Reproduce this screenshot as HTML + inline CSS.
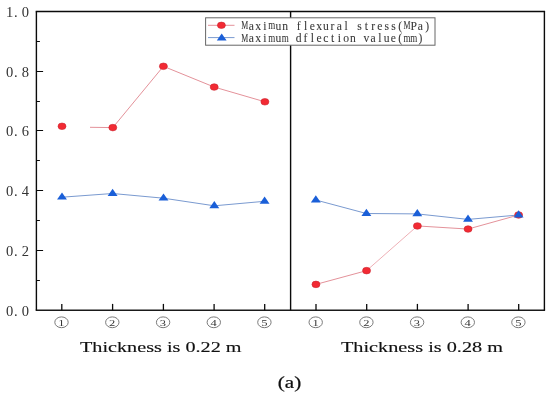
<!DOCTYPE html>
<html><head><meta charset="utf-8"><style>
html,body{margin:0;padding:0;background:#fff;overflow:hidden}
svg{display:block;will-change:transform}
.yl{font-family:"Liberation Serif",serif;font-size:14.5px;fill:#333}
.cn{font-family:"Liberation Serif",serif;font-size:8.6px;fill:#333}
.tt{font-family:"Liberation Serif",serif;font-size:15.3px;fill:#111;stroke:#111;stroke-width:0.15px}
.ta{font-family:"Liberation Serif",serif;font-size:17.2px;fill:#111;stroke:#111;stroke-width:0.22px}
.lg{font-family:"Liberation Mono",monospace;font-size:11.2px;fill:#333}
.lgs{font-family:"Liberation Serif",serif;font-size:11.6px;fill:#383838;stroke:#383838;stroke-width:0.08px}
</style></head><body>
<svg width="550" height="398" viewBox="0 0 550 398">
<rect x="0" y="0" width="550" height="398" fill="#fff"/>
<polyline fill="none" stroke="#e4929a" stroke-width="1.0" points="90.00,127.30 112.80,127.60 163.40,66.30 214.20,87.05 264.90,101.80"/>
<polyline fill="none" stroke="#e4929a" stroke-width="1.0" points="315.95,284.40 366.55,270.65"/>
<polyline fill="none" stroke="#eeb0b6" stroke-width="1.0" points="366.55,270.65 417.40,225.95"/>
<polyline fill="none" stroke="#e4929a" stroke-width="1.0" points="417.40,225.95 468.05,229.05 518.60,215.00"/>
<polyline fill="none" stroke="#7a9ad0" stroke-width="1.0" points="62.00,197.20 112.60,193.50 163.50,198.20 214.30,205.80 264.60,201.30"/>
<polyline fill="none" stroke="#7a9ad0" stroke-width="1.0" points="315.80,200.00 366.40,213.50 417.30,213.90 468.00,219.40 518.60,215.00"/>
<ellipse cx="62.0" cy="126.3" rx="4.0" ry="3.3" fill="#f22a33" stroke="#cc2530" stroke-width="0.6"/>
<ellipse cx="112.8" cy="127.6" rx="4.0" ry="3.3" fill="#f22a33" stroke="#cc2530" stroke-width="0.6"/>
<ellipse cx="163.4" cy="66.3" rx="4.0" ry="3.3" fill="#f22a33" stroke="#cc2530" stroke-width="0.6"/>
<ellipse cx="214.2" cy="87.05" rx="4.0" ry="3.3" fill="#f22a33" stroke="#cc2530" stroke-width="0.6"/>
<ellipse cx="264.9" cy="101.8" rx="4.0" ry="3.3" fill="#f22a33" stroke="#cc2530" stroke-width="0.6"/>
<ellipse cx="315.95" cy="284.4" rx="4.0" ry="3.3" fill="#f22a33" stroke="#cc2530" stroke-width="0.6"/>
<ellipse cx="366.55" cy="270.65" rx="4.0" ry="3.3" fill="#f22a33" stroke="#cc2530" stroke-width="0.6"/>
<ellipse cx="417.4" cy="225.95" rx="4.0" ry="3.3" fill="#f22a33" stroke="#cc2530" stroke-width="0.6"/>
<ellipse cx="468.05" cy="229.05" rx="4.0" ry="3.3" fill="#f22a33" stroke="#cc2530" stroke-width="0.6"/>
<ellipse cx="518.6" cy="215.0" rx="4.0" ry="3.3" fill="#f22a33" stroke="#cc2530" stroke-width="0.6"/>
<polygon points="57.05,199.60 66.95,199.60 62.00,192.40" fill="#1a5fd8"/>
<polygon points="107.65,195.90 117.55,195.90 112.60,188.70" fill="#1a5fd8"/>
<polygon points="158.55,200.60 168.45,200.60 163.50,193.40" fill="#1a5fd8"/>
<polygon points="209.35,208.20 219.25,208.20 214.30,201.00" fill="#1a5fd8"/>
<polygon points="259.65,203.70 269.55,203.70 264.60,196.50" fill="#1a5fd8"/>
<polygon points="310.85,202.40 320.75,202.40 315.80,195.20" fill="#1a5fd8"/>
<polygon points="361.45,215.90 371.35,215.90 366.40,208.70" fill="#1a5fd8"/>
<polygon points="412.35,216.30 422.25,216.30 417.30,209.10" fill="#1a5fd8"/>
<polygon points="463.05,221.80 472.95,221.80 468.00,214.60" fill="#1a5fd8"/>
<polygon points="513.65,217.40 523.55,217.40 518.60,210.20" fill="#1a5fd8"/>
<line x1="35.699999999999996" y1="11.5" x2="545.1" y2="11.5" stroke="#0a0a0a" stroke-width="1.4"/>
<line x1="35.699999999999996" y1="310.3" x2="545.1" y2="310.3" stroke="#1a1a1a" stroke-width="1.4"/>
<line x1="36.4" y1="11.5" x2="36.4" y2="310.3" stroke="#0a0a0a" stroke-width="1.4"/>
<line x1="544.4" y1="11.5" x2="544.4" y2="310.3" stroke="#0a0a0a" stroke-width="1.4"/>
<line x1="290.6" y1="11.5" x2="290.6" y2="310.3" stroke="#0a0a0a" stroke-width="1.4"/>
<line x1="36.4" y1="250.5" x2="43.1" y2="250.5" stroke="#0a0a0a" stroke-width="1.0"/>
<line x1="36.4" y1="190.5" x2="43.1" y2="190.5" stroke="#0a0a0a" stroke-width="1.0"/>
<line x1="36.4" y1="130.5" x2="43.1" y2="130.5" stroke="#0a0a0a" stroke-width="1.0"/>
<line x1="36.4" y1="71.5" x2="43.1" y2="71.5" stroke="#0a0a0a" stroke-width="1.0"/>
<line x1="36.4" y1="280.5" x2="39.9" y2="280.5" stroke="#0a0a0a" stroke-width="1.0"/>
<line x1="36.4" y1="220.5" x2="39.9" y2="220.5" stroke="#0a0a0a" stroke-width="1.0"/>
<line x1="36.4" y1="160.5" x2="39.9" y2="160.5" stroke="#0a0a0a" stroke-width="1.0"/>
<line x1="36.4" y1="101.5" x2="39.9" y2="101.5" stroke="#0a0a0a" stroke-width="1.0"/>
<line x1="36.4" y1="41.5" x2="39.9" y2="41.5" stroke="#0a0a0a" stroke-width="1.0"/>
<line x1="61.8" y1="310.3" x2="61.8" y2="303.9" stroke="#0a0a0a" stroke-width="1.3"/>
<line x1="112.6" y1="310.3" x2="112.6" y2="303.9" stroke="#0a0a0a" stroke-width="1.3"/>
<line x1="163.4" y1="310.3" x2="163.4" y2="303.9" stroke="#0a0a0a" stroke-width="1.3"/>
<line x1="214.1" y1="310.3" x2="214.1" y2="303.9" stroke="#0a0a0a" stroke-width="1.3"/>
<line x1="264.7" y1="310.3" x2="264.7" y2="303.9" stroke="#0a0a0a" stroke-width="1.3"/>
<line x1="316.0" y1="310.3" x2="316.0" y2="303.9" stroke="#0a0a0a" stroke-width="1.3"/>
<line x1="366.7" y1="310.3" x2="366.7" y2="303.9" stroke="#0a0a0a" stroke-width="1.3"/>
<line x1="417.4" y1="310.3" x2="417.4" y2="303.9" stroke="#0a0a0a" stroke-width="1.3"/>
<line x1="468.1" y1="310.3" x2="468.1" y2="303.9" stroke="#0a0a0a" stroke-width="1.3"/>
<line x1="518.7" y1="310.3" x2="518.7" y2="303.9" stroke="#0a0a0a" stroke-width="1.3"/>
<text x="9.65 15.8 25.3" y="315.60" text-anchor="middle" class="yl">0.0</text>
<text x="9.65 15.8 25.3" y="255.80" text-anchor="middle" class="yl">0.2</text>
<text x="9.65 15.8 25.3" y="195.80" text-anchor="middle" class="yl">0.4</text>
<text x="9.65 15.8 25.3" y="135.80" text-anchor="middle" class="yl">0.6</text>
<text x="9.65 15.8 25.3" y="76.80" text-anchor="middle" class="yl">0.8</text>
<text x="9.65 15.8 25.3" y="16.80" text-anchor="middle" class="yl">1.0</text>
<ellipse cx="61.5" cy="322.3" rx="6.7" ry="5.4" fill="none" stroke="#7a7a7a" stroke-width="1.0"/>
<text x="61.5" y="325.7" text-anchor="middle" class="cn" transform="translate(61.8,0) scale(1.45,1) translate(-61.8,0)">1</text>
<ellipse cx="112.3" cy="322.3" rx="6.7" ry="5.4" fill="none" stroke="#7a7a7a" stroke-width="1.0"/>
<text x="112.3" y="325.7" text-anchor="middle" class="cn" transform="translate(112.6,0) scale(1.45,1) translate(-112.6,0)">2</text>
<ellipse cx="163.1" cy="322.3" rx="6.7" ry="5.4" fill="none" stroke="#7a7a7a" stroke-width="1.0"/>
<text x="163.1" y="325.7" text-anchor="middle" class="cn" transform="translate(163.4,0) scale(1.45,1) translate(-163.4,0)">3</text>
<ellipse cx="213.79999999999998" cy="322.3" rx="6.7" ry="5.4" fill="none" stroke="#7a7a7a" stroke-width="1.0"/>
<text x="213.79999999999998" y="325.7" text-anchor="middle" class="cn" transform="translate(214.1,0) scale(1.45,1) translate(-214.1,0)">4</text>
<ellipse cx="264.4" cy="322.3" rx="6.7" ry="5.4" fill="none" stroke="#7a7a7a" stroke-width="1.0"/>
<text x="264.4" y="325.7" text-anchor="middle" class="cn" transform="translate(264.7,0) scale(1.45,1) translate(-264.7,0)">5</text>
<ellipse cx="315.7" cy="322.3" rx="6.7" ry="5.4" fill="none" stroke="#7a7a7a" stroke-width="1.0"/>
<text x="315.7" y="325.7" text-anchor="middle" class="cn" transform="translate(316.0,0) scale(1.45,1) translate(-316.0,0)">1</text>
<ellipse cx="366.4" cy="322.3" rx="6.7" ry="5.4" fill="none" stroke="#7a7a7a" stroke-width="1.0"/>
<text x="366.4" y="325.7" text-anchor="middle" class="cn" transform="translate(366.7,0) scale(1.45,1) translate(-366.7,0)">2</text>
<ellipse cx="417.09999999999997" cy="322.3" rx="6.7" ry="5.4" fill="none" stroke="#7a7a7a" stroke-width="1.0"/>
<text x="417.09999999999997" y="325.7" text-anchor="middle" class="cn" transform="translate(417.4,0) scale(1.45,1) translate(-417.4,0)">3</text>
<ellipse cx="467.8" cy="322.3" rx="6.7" ry="5.4" fill="none" stroke="#7a7a7a" stroke-width="1.0"/>
<text x="467.8" y="325.7" text-anchor="middle" class="cn" transform="translate(468.1,0) scale(1.45,1) translate(-468.1,0)">4</text>
<ellipse cx="518.4000000000001" cy="322.3" rx="6.7" ry="5.4" fill="none" stroke="#7a7a7a" stroke-width="1.0"/>
<text x="518.4000000000001" y="325.7" text-anchor="middle" class="cn" transform="translate(518.7,0) scale(1.45,1) translate(-518.7,0)">5</text>
<text x="80" y="351.8" class="tt" textLength="161.5" lengthAdjust="spacingAndGlyphs">Thickness is 0.22 m</text>
<text x="341" y="351.8" class="tt" textLength="162" lengthAdjust="spacingAndGlyphs">Thickness is 0.28 m</text>
<text x="277.8" y="388.2" class="ta" textLength="23.5" lengthAdjust="spacingAndGlyphs">(a)</text>
<rect x="205.6" y="17.8" width="229.4" height="27.4" fill="#fff" stroke="#666" stroke-width="1"/>
<line x1="208" y1="25.3" x2="234.5" y2="25.3" stroke="#e4929a" stroke-width="1.0"/>
<ellipse cx="221.4" cy="25.3" rx="4.0" ry="3.2" fill="#f22a33" stroke="#cc2530" stroke-width="0.6"/>
<line x1="208" y1="37.6" x2="234.5" y2="37.6" stroke="#7a9ad0" stroke-width="1.0"/>
<polygon points="216.8,40.6 226.6,40.6 221.7,33.6" fill="#1a5fd8"/>
<text x="244.68" y="29.5" text-anchor="middle" class="lgs" transform="translate(244.68,0) scale(0.679,1) translate(-244.68,0)">M</text>
<text x="251.44" y="29.5" text-anchor="middle" class="lgs">a</text>
<text x="258.20" y="29.5" text-anchor="middle" class="lgs">x</text>
<text x="264.96" y="29.5" text-anchor="middle" class="lgs">i</text>
<text x="271.72" y="29.5" text-anchor="middle" class="lgs" transform="translate(271.72,0) scale(0.776,1) translate(-271.72,0)">m</text>
<text x="278.48" y="29.5" text-anchor="middle" class="lgs">u</text>
<text x="285.24" y="29.5" text-anchor="middle" class="lgs">n</text>
<text x="298.76" y="29.5" text-anchor="middle" class="lgs">f</text>
<text x="305.52" y="29.5" text-anchor="middle" class="lgs">l</text>
<text x="312.28" y="29.5" text-anchor="middle" class="lgs">e</text>
<text x="319.04" y="29.5" text-anchor="middle" class="lgs">x</text>
<text x="325.80" y="29.5" text-anchor="middle" class="lgs">u</text>
<text x="332.56" y="29.5" text-anchor="middle" class="lgs">r</text>
<text x="339.32" y="29.5" text-anchor="middle" class="lgs">a</text>
<text x="346.08" y="29.5" text-anchor="middle" class="lgs">l</text>
<text x="359.60" y="29.5" text-anchor="middle" class="lgs">s</text>
<text x="366.36" y="29.5" text-anchor="middle" class="lgs">t</text>
<text x="373.12" y="29.5" text-anchor="middle" class="lgs">r</text>
<text x="379.88" y="29.5" text-anchor="middle" class="lgs">e</text>
<text x="386.64" y="29.5" text-anchor="middle" class="lgs">s</text>
<text x="393.40" y="29.5" text-anchor="middle" class="lgs">s</text>
<text x="400.16" y="29.5" text-anchor="middle" class="lgs">(</text>
<text x="406.92" y="29.5" text-anchor="middle" class="lgs" transform="translate(406.92,0) scale(0.679,1) translate(-406.92,0)">M</text>
<text x="413.68" y="29.5" text-anchor="middle" class="lgs">P</text>
<text x="420.44" y="29.5" text-anchor="middle" class="lgs">a</text>
<text x="427.20" y="29.5" text-anchor="middle" class="lgs">)</text>
<text x="244.68" y="42.0" text-anchor="middle" class="lgs" transform="translate(244.68,0) scale(0.679,1) translate(-244.68,0)">M</text>
<text x="251.44" y="42.0" text-anchor="middle" class="lgs">a</text>
<text x="258.20" y="42.0" text-anchor="middle" class="lgs">x</text>
<text x="264.96" y="42.0" text-anchor="middle" class="lgs">i</text>
<text x="271.72" y="42.0" text-anchor="middle" class="lgs" transform="translate(271.72,0) scale(0.776,1) translate(-271.72,0)">m</text>
<text x="278.48" y="42.0" text-anchor="middle" class="lgs">u</text>
<text x="285.24" y="42.0" text-anchor="middle" class="lgs" transform="translate(285.24,0) scale(0.776,1) translate(-285.24,0)">m</text>
<text x="298.76" y="42.0" text-anchor="middle" class="lgs">d</text>
<text x="305.52" y="42.0" text-anchor="middle" class="lgs">f</text>
<text x="312.28" y="42.0" text-anchor="middle" class="lgs">l</text>
<text x="319.04" y="42.0" text-anchor="middle" class="lgs">e</text>
<text x="325.80" y="42.0" text-anchor="middle" class="lgs">c</text>
<text x="332.56" y="42.0" text-anchor="middle" class="lgs">t</text>
<text x="339.32" y="42.0" text-anchor="middle" class="lgs">i</text>
<text x="346.08" y="42.0" text-anchor="middle" class="lgs">o</text>
<text x="352.84" y="42.0" text-anchor="middle" class="lgs">n</text>
<text x="366.36" y="42.0" text-anchor="middle" class="lgs">v</text>
<text x="373.12" y="42.0" text-anchor="middle" class="lgs">a</text>
<text x="379.88" y="42.0" text-anchor="middle" class="lgs">l</text>
<text x="386.64" y="42.0" text-anchor="middle" class="lgs">u</text>
<text x="393.40" y="42.0" text-anchor="middle" class="lgs">e</text>
<text x="400.16" y="42.0" text-anchor="middle" class="lgs">(</text>
<text x="406.92" y="42.0" text-anchor="middle" class="lgs" transform="translate(406.92,0) scale(0.776,1) translate(-406.92,0)">m</text>
<text x="413.68" y="42.0" text-anchor="middle" class="lgs" transform="translate(413.68,0) scale(0.776,1) translate(-413.68,0)">m</text>
<text x="420.44" y="42.0" text-anchor="middle" class="lgs">)</text>
</svg>
</body></html>
